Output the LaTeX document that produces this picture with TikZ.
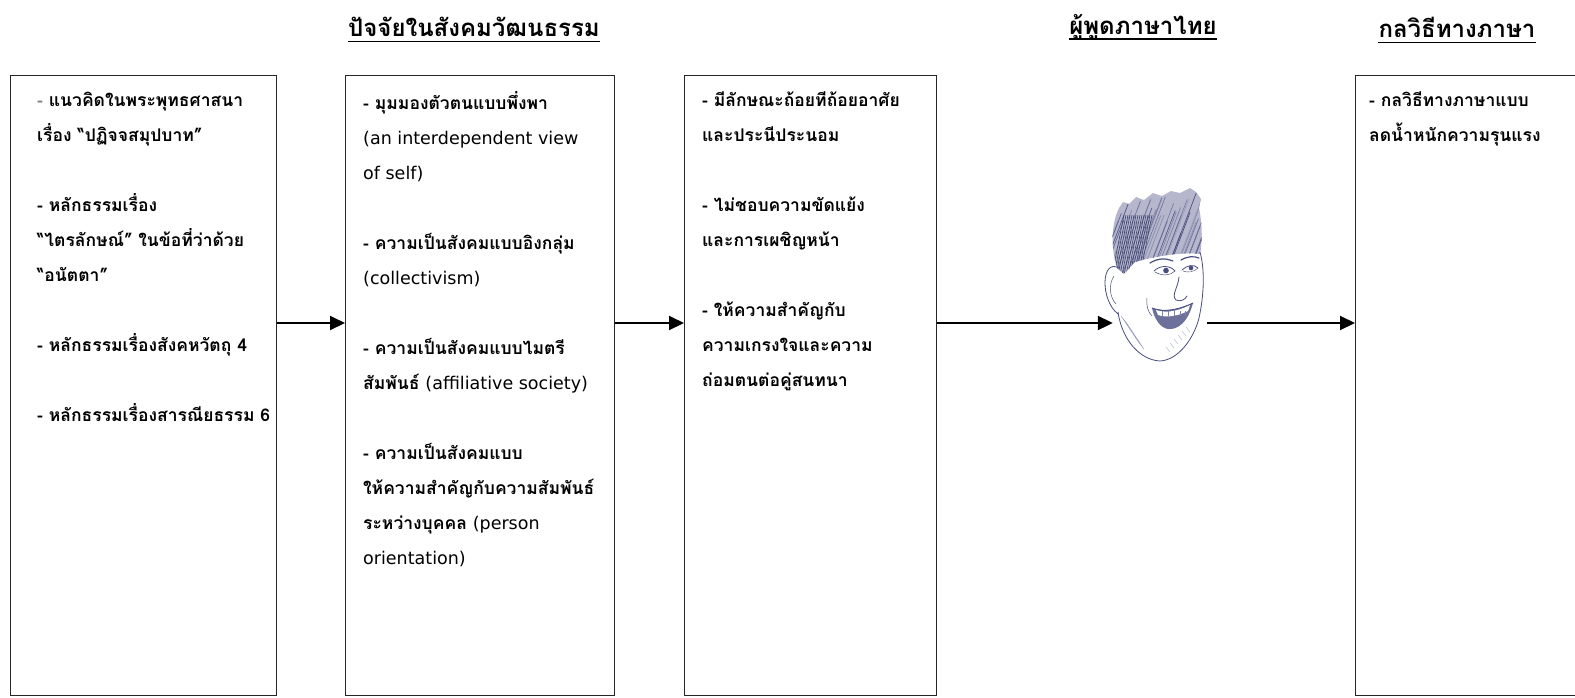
\documentclass[tikz,border=0pt]{standalone}
\usepackage{fontspec}
\newfontfamily\thaifont[Script=Thai]{Loma}
\newfontfamily\latinfont{DejaVu Sans}
\newcommand{\latinpart}[1]{{\latinfont\mdseries #1}}
\usetikzlibrary{arrows.meta,positioning}
\definecolor{ink}{RGB}{72,76,128}

\tikzset{
  frame/.style={draw=black!85, line width=1pt, minimum width=#1, minimum height=620pt, inner sep=0pt, anchor=north west},
  itemtext/.style={font=\thaifont\bfseries\fontsize{17.5}{35}\selectfont, align=left, anchor=north west, inner sep=0pt},
  heading/.style={font=\thaifont\bfseries\fontsize{24}{28}\selectfont, inner sep=0pt},
  flow/.style={line width=2pt, -{Triangle[length=15pt,width=14pt]}},
  pencil/.style={draw=ink, line width=.8pt, line cap=round},
}

\begin{document}
\begin{tikzpicture}[x=1pt,y=-1pt]
    \useasboundingbox (0,0) rectangle (1575,697);

    % headings
    \node[heading] (hculture) at (474,27) {ปัจจัยในสังคมวัฒนธรรม};
    \node[heading] (hspeaker) at (1143,27) {ผู้พูดภาษาไทย};
    \node[heading] (hstrategy) at (1457,27) {กลวิธีทางภาษา};
    \foreach \h in {hculture,hspeaker,hstrategy}
        \draw[line width=1.2pt] ([yshift=-5pt]\h.base west) -- ([yshift=-5pt]\h.base east);

    % the four boxes
    \node[frame=266pt] (dhamma) at (10,75) {};
    \node[frame=269pt] (culture) at (345,75) {};
    \node[frame=252pt] (traits) at (684,75) {};
    \node[frame=235pt] (strategy) at (1355,75) {};

    \node[itemtext] (dhammatext) at (37,92) {%
        {\color{gray}-} แนวคิดในพระพุทธศาสนา\\
        เรื่อง “ปฏิจจสมุปบาท”\\[35pt]
        - หลักธรรมเรื่อง\\
        “ไตรลักษณ์” ในข้อที่ว่าด้วย\\
        “อนัตตา”\\[35pt]
        - หลักธรรมเรื่องสังคหวัตถุ 4\\[35pt]
        - หลักธรรมเรื่องสารณียธรรม 6};
    \node[itemtext] (culturetext) at (363,91) {%
        - มุมมองตัวตนแบบพึ่งพา\\
        \latinpart{(an interdependent view}\\
        \latinpart{of self)}\\[35pt]
        - ความเป็นสังคมแบบอิงกลุ่ม\\
        \latinpart{(collectivism)}\\[35pt]
        - ความเป็นสังคมแบบไมตรี\\
        สัมพันธ์ \latinpart{(affiliative society)}\\[35pt]
        - ความเป็นสังคมแบบ\\
        ให้ความสำคัญกับความสัมพันธ์\\
        ระหว่างบุคคล \latinpart{(person}\\
        \latinpart{orientation)}};
    \node[itemtext] (traitstext) at (702,91) {%
        - มีลักษณะถ้อยทีถ้อยอาศัย\\
        และประนีประนอม\\[35pt]
        - ไม่ชอบความขัดแย้ง\\
        และการเผชิญหน้า\\[35pt]
        - ให้ความสำคัญกับ\\
        ความเกรงใจและความ\\
        ถ่อมตนต่อคู่สนทนา};
    \node[itemtext] (strategytext) at (1369,91) {%
        - กลวิธีทางภาษาแบบ\\
        ลดน้ำหนักความรุนแรง};

    % the speaker's face
    \node[minimum width=94pt, minimum height=170pt, inner sep=0pt] (speaker) at (1160,323) {};
    \pgfmathsetseed{11}
    \begin{scope}
        \path[clip] (1117,268) .. controls (1110,245) and (1112,222) .. (1119,208)
            -- (1123,202) -- (1129,204) -- (1136,197) -- (1144,200) -- (1153,193)
            -- (1162,196) -- (1171,191) -- (1180,193) -- (1190,188) -- (1196,192)
            -- (1201,199) -- (1199,208) .. controls (1203,228) and (1202,242) .. (1200,254)
            .. controls (1185,252) and (1160,255) .. (1135,262) -- (1124,274) -- cycle;
        \fill[ink!40] (1100,180) rectangle (1210,280);
        \foreach \i in {0,...,50}{
            \pgfmathsetmacro{\len}{50+40*rnd}
            \pgfmathsetmacro{\shade}{55+45*rnd}
            \draw[ink!\shade, line width=.7pt] (1090+\i*2.4,285-12*rnd) -- ++(0.38*\len,-\len);
        }
        \foreach \i in {0,...,14}
            \draw[ink!85!black, line width=.6pt] (1112+\i*2,275) -- ++(12,-60);
    \end{scope}
    % ear and outline
    \draw[pencil] (1119,268) .. controls (1101,258) and (1100,300) .. (1118,314);
    \draw[pencil, line width=.5pt] (1114,276) .. controls (1108,285) and (1110,298) .. (1116,304);
    \draw[pencil] (1118,312) .. controls (1122,340) and (1140,360) .. (1160,361)
        .. controls (1180,360) and (1195,335) .. (1199,318)
        .. controls (1204,295) and (1205,270) .. (1200,252);
    % shading on the left cheek and jaw
    \foreach \i in {0,...,8}
        \draw[ink!55, line width=.5pt] (1121+\i*2,316+\i*3) -- ++(7,9);
    \foreach \i in {0,...,5}
        \draw[ink!45, line width=.4pt] (1170+\i*4,352-\i*4) -- ++(-4,-5);
    % brows and eyes
    \draw[pencil, line width=1.2pt] (1150,263) .. controls (1158,258) and (1166,258) .. (1173,261);
    \draw[pencil, line width=1.2pt] (1181,260) .. controls (1188,256) and (1194,256) .. (1199,258);
    \draw[pencil] (1154,271) .. controls (1160,265) and (1170,265) .. (1175,271);
    \draw[pencil, line width=.5pt] (1155,272) .. controls (1162,276) and (1170,276) .. (1175,271);
    \fill[ink] (1166,270.5) circle (2.8pt);
    \draw[pencil] (1182,270) .. controls (1187,265) and (1194,264) .. (1198,268);
    \draw[pencil, line width=.4pt] (1183,271) .. controls (1188,273) and (1194,272) .. (1198,268);
    \fill[ink] (1191,268) circle (2.3pt);
    % nose
    \draw[pencil] (1179,277) .. controls (1178,288) and (1171,295) .. (1176,300)
        .. controls (1180,302) and (1185,300) .. (1187,296);
    % open grin with teeth
    \fill[ink!80] (1152,308) .. controls (1165,313) and (1180,309) .. (1193,303)
        .. controls (1188,322) and (1178,330) .. (1168,329)
        .. controls (1160,328) and (1154,318) .. (1152,308);
    \fill[white] (1156,310) .. controls (1168,314) and (1180,310) .. (1190,305)
        -- (1188,311) .. controls (1178,316) and (1166,318) .. (1158,315) -- cycle;
    \foreach \t in {1162,1168,1174,1180,1185}
        \draw[ink!70, line width=.4pt] (\t,311) -- ++(0,5);
    \draw[pencil] (1152,308) .. controls (1165,313) and (1180,309) .. (1193,303);
    \draw[pencil, line width=.5pt] (1147,298) .. controls (1146,306) and (1148,312) .. (1152,316);

    % connectors
    \coordinate (flowline) at (0,323);
    \draw[flow] (dhamma.east |- flowline) -- (culture.west |- flowline);
    \draw[flow] (culture.east |- flowline) -- (traits.west |- flowline);
    \draw[flow] (traits.east |- speaker) -- (speaker.west);
    \draw[flow] (speaker.east) -- (strategy.west |- speaker);
\end{tikzpicture}
\end{document}
